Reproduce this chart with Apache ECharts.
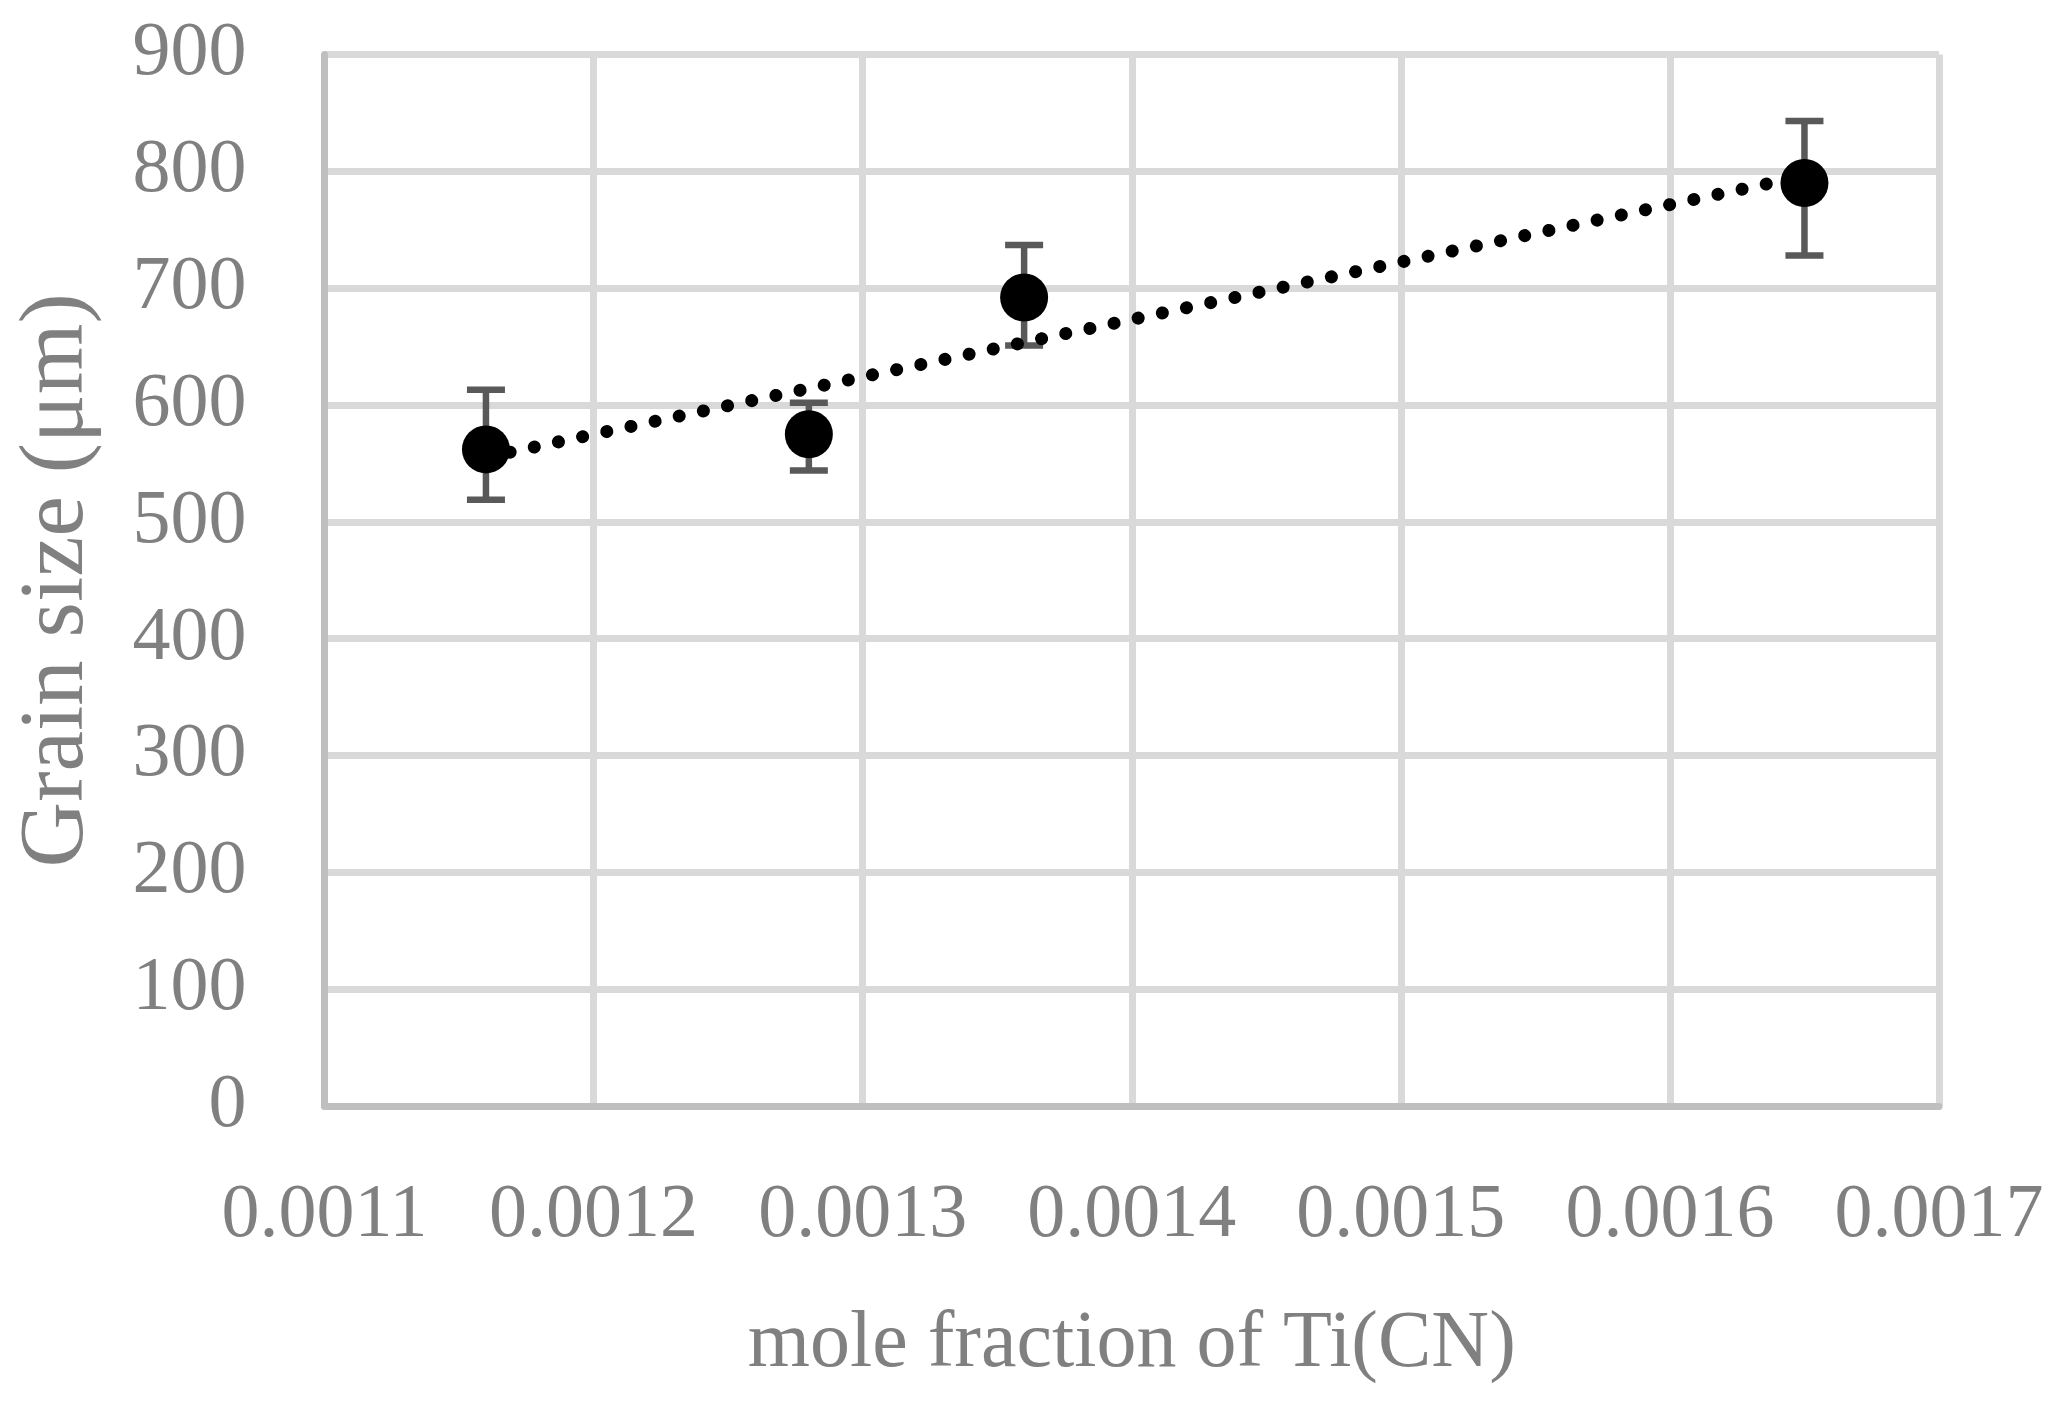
<!DOCTYPE html>
<html>
<head>
<meta charset="utf-8">
<script src="https://cdn.jsdelivr.net/npm/echarts@6/dist/echarts.min.js"></script>
<style>
  html, body { margin: 0; padding: 0; background: #ffffff; }
  #chart { width: 2069px; height: 1410px; }
</style>
</head>
<body>
<div id="chart"></div>
<script>
// ---- data ----
const moleFraction = [0.00116, 0.00128, 0.00136, 0.00165];
const grainSize    = [562, 575, 692, 790];
const errorPlus    = [51, 27, 45, 53];
const errorMinus   = [43, 31, 41, 62];
const xTitle = 'mole fraction of Ti(CN)';
const yTitle = 'Grain size (\u03bcm)';

// linear trendline (least squares), as in the original chart
function linearFit(xs, ys) {
  const n = xs.length;
  const mx = xs.reduce((a, b) => a + b, 0) / n;
  const my = ys.reduce((a, b) => a + b, 0) / n;
  let sxy = 0, sxx = 0;
  for (let i = 0; i < n; i++) { sxy += (xs[i] - mx) * (ys[i] - my); sxx += (xs[i] - mx) ** 2; }
  const slope = sxy / sxx;
  return x => my + slope * (x - mx);
}
const fit = linearFit(moleFraction, grainSize);
const xFirst = Math.min(...moleFraction), xLast = Math.max(...moleFraction);
const trendData = [[xFirst, fit(xFirst)], [xLast, fit(xLast)]];

const pointData = moleFraction.map((x, i) => [x, grainSize[i]]);
const errData = moleFraction.map((x, i) => [x, grainSize[i] - errorMinus[i], grainSize[i] + errorPlus[i]]);

const FONT = '"Liberation Serif", "DejaVu Serif", serif';
const GRAY = '#808080';

const chart = echarts.init(document.getElementById('chart'), null, { renderer: 'canvas' });
chart.setOption({
  backgroundColor: '#ffffff',
  animation: false,
  grid: { left: 324.5, right: 130, top: 54.5, bottom: 304, containLabel: false },
  xAxis: {
    type: 'value', min: 0.0011, max: 0.0017, interval: 0.0001,
    name: xTitle, nameLocation: 'middle', nameGap: 199,
    nameTextStyle: { color: GRAY, fontFamily: FONT, fontSize: 80 },
    axisLine: { show: true, onZero: false, lineStyle: { color: '#bfbfbf', width: 7 } },
    axisTick: { show: false },
    splitLine: { show: true, lineStyle: { color: '#d9d9d9', width: 7 } },
    axisLabel: {
      color: GRAY, fontFamily: FONT, fontSize: 76, margin: 72,
      formatter: v => v.toFixed(4)
    }
  },
  yAxis: {
    type: 'value', min: 0, max: 900, interval: 100,
    name: yTitle, nameLocation: 'middle', nameGap: 221,
    nameTextStyle: { color: GRAY, fontFamily: FONT, fontSize: 91 },
    axisLine: { show: true, onZero: false, lineStyle: { color: '#bfbfbf', width: 7 } },
    axisTick: { show: false },
    splitLine: { show: true, lineStyle: { color: '#d9d9d9', width: 7 } },
    axisLabel: { color: GRAY, fontFamily: FONT, fontSize: 76, margin: 78 }
  },
  series: [
    {
      type: 'custom',
      name: 'error',
      z: 2,
      data: errData,
      renderItem: function (params, api) {
        const x = api.value(0);
        const lo = api.coord([x, api.value(1)]);
        const hi = api.coord([x, api.value(2)]);
        const hw = 19;
        const style = { stroke: '#595959', lineWidth: 6.5, fill: null };
        return {
          type: 'group',
          children: [
            { type: 'line', shape: { x1: lo[0], y1: lo[1], x2: hi[0], y2: hi[1] }, style: style },
            { type: 'line', shape: { x1: lo[0] - hw, y1: lo[1], x2: lo[0] + hw, y2: lo[1] }, style: style },
            { type: 'line', shape: { x1: hi[0] - hw, y1: hi[1], x2: hi[0] + hw, y2: hi[1] }, style: style }
          ]
        };
      }
    },
    {
      type: 'scatter',
      name: 'grain',
      z: 3,
      data: pointData,
      symbol: 'circle',
      symbolSize: 48,
      itemStyle: { color: '#000000', opacity: 1 }
    },
    {
      type: 'line',
      name: 'trend',
      z: 4,
      data: trendData,
      showSymbol: false,
      symbol: 'none',
      lineStyle: { color: '#000000', width: 13, type: [0.1, 24.6], cap: 'round', opacity: 1 }
    }
  ]
});
</script>
</body>
</html>
